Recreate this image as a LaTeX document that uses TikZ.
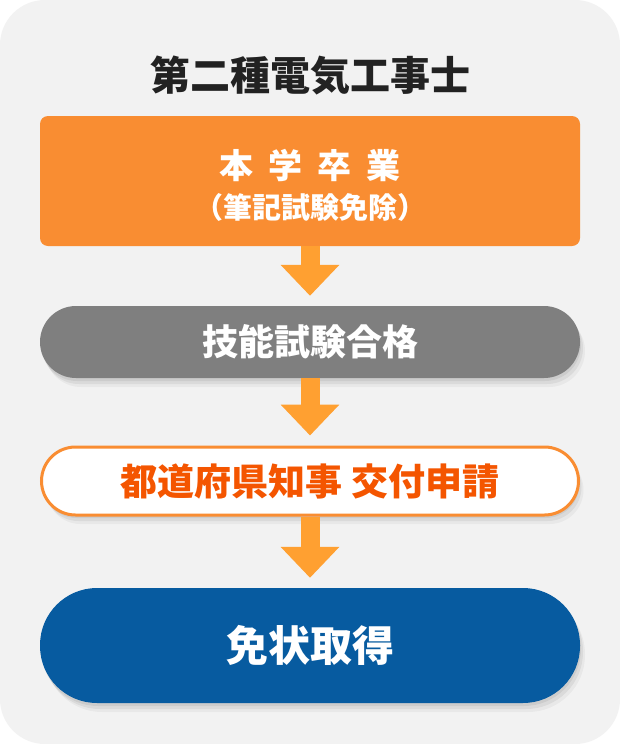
\documentclass[tikz,border=0pt]{standalone}
\usepackage{fontspec}
\setmainfont{Noto Sans CJK JP}
\usepackage{tikz}
\usetikzlibrary{arrows.meta, shadows}

\definecolor{bgpanel}{HTML}{F2F2F2}
\definecolor{titleink}{HTML}{222222}
\definecolor{orangebox}{HTML}{F98D32}
\definecolor{arrowfill}{HTML}{FFA031}
\definecolor{graybox}{HTML}{7F7F7F}
\definecolor{applyink}{HTML}{F45500}
\definecolor{bluebox}{HTML}{075BA0}

\begin{document}
\begin{tikzpicture}[x=1pt, y=-1pt,
  every node/.style={inner sep=0pt, font=\bfseries},
  softshadow/.style={drop shadow={shadow xshift=1pt, shadow yshift=-3pt, opacity=0.06, fill=black},
                     drop shadow={shadow xshift=3pt, shadow yshift=-6pt, opacity=0.06, fill=black},
                     drop shadow={shadow xshift=5pt, shadow yshift=-9pt, opacity=0.04, fill=black}},
  flowarrow/.style={draw=arrowfill, line width=19pt, shorten >=10pt, -{Triangle[width=57pt, length=31pt]}}]
  \useasboundingbox (0,0) rectangle (620,744);
  \fill[white] (0,0) rectangle (620,744);
  \fill[bgpanel, rounded corners=45pt] (0,0) rectangle (620,744);
  % title
  \node[text=titleink, font=\bfseries\fontsize{40}{48}\selectfont] (title) at (310,75) {第二種電気工事士};
  % steps
  \node[fill=orangebox, rounded corners=8pt, minimum width=540pt, minimum height=130pt, text=white, align=center,
        font=\bfseries\fontsize{34}{46}\selectfont] (gakka) at (310,181)
        {{\spaceskip=.45em \rule{0pt}{38pt}本 学 卒 業}\\[-6pt]{\fontsize{29}{34}\selectfont （筆記試験免除）}};
  \node[fill=graybox, rounded corners=36pt, minimum width=540pt, minimum height=72pt, text=white, softshadow,
        font=\bfseries\fontsize{36}{42}\selectfont] (jitsugi) at (310,342) {技能試験合格};
  \node[fill=white, draw=orangebox, line width=3pt, rounded corners=34pt, minimum width=537pt, minimum height=68pt,
        text=applyink, softshadow, font=\bfseries\fontsize{37}{44}\selectfont] (shinsei) at (310,481) {都道府県知事 交付申請};
  \node[fill=bluebox, rounded corners=57pt, minimum width=540pt, minimum height=115pt, text=white, softshadow,
        font=\bfseries\fontsize{42}{50}\selectfont] (menjo) at (310,645.5) {免状取得};
  % arrows
  \draw[flowarrow] (gakka.south) -- (jitsugi.north);
  \draw[flowarrow] (jitsugi.south) -- (shinsei.north);
  \draw[flowarrow] (shinsei.south) -- (menjo.north);
\end{tikzpicture}
\end{document}
